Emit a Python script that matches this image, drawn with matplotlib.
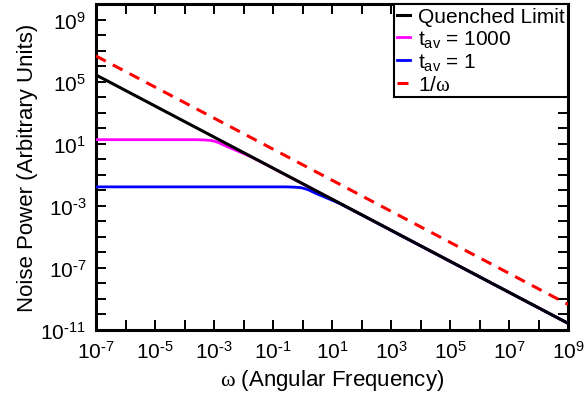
import numpy as np
import matplotlib
matplotlib.use("Agg")
import matplotlib.pyplot as plt
from matplotlib.ticker import LogLocator, FuncFormatter, NullLocator

plt.rcParams['font.family'] = ['Liberation Sans', 'DejaVu Sans']
plt.rcParams['mathtext.fontset'] = 'custom'
plt.rcParams['mathtext.rm'] = 'Liberation Serif'
plt.rcParams['mathtext.sf'] = 'Liberation Sans'
plt.rcParams['mathtext.it'] = 'Liberation Sans:italic'

# ---- data (log10 values) ----
quench_logw = [-7, 9]
quench_logS = [5.43, -10.57]

inv_logw = [-7, 9]
inv_logS = [6.65, -9.35]

t1000_logw = [-7, -3.6, -3.3, -3.1, -2.95, -2.83, -2.7, -2.55, -2.35, -2.15, -1.95, -1.7, -1.3, 9]
t1000_logS = [1.26, 1.26, 1.24, 1.21, 1.14, 1.06, 0.94, 0.81, 0.65, 0.49, 0.33, 0.11, -0.28, -10.57]

t1_logw = [-7, -0.56, -0.26, -0.06, 0.09, 0.21, 0.34, 0.49, 0.69, 0.89, 1.09, 1.34, 1.74, 9]
t1_logS = [-1.78, -1.78, -1.80, -1.83, -1.90, -1.98, -2.10, -2.23, -2.39, -2.55, -2.71, -2.93, -3.32, -10.57]

labels = ['Quenched Limit', 't$_{\\mathsf{av}}$ = 1000', 't$_{\\mathsf{av}}$ = 1', '1/$\\mathrm{\\omega}$']

fig = plt.figure(figsize=(5.85, 4.1), dpi=100)
ax = fig.add_axes([96/585, 1-331/410, (568-96)/585, (331-5)/410])

def p(lw_, ls_):
    return 10**np.array(lw_, float), 10**np.array(ls_, float)

x, y = p(quench_logw, quench_logS)
ax.plot(x, y, color='black', lw=2.2, label=labels[0], zorder=5)
x, y = p(t1000_logw, t1000_logS)
ax.plot(x, y, color='#ff00ff', lw=2.0, label=labels[1], zorder=3)
x, y = p(t1_logw, t1_logS)
ax.plot(x, y, color='#0000ff', lw=2.0, label=labels[2], zorder=3)
x, y = p(inv_logw, inv_logS)
ax.plot(x, y, color='#ff0000', lw=2.2, dashes=(3.6, 2.6), label=labels[3], zorder=4)

ax.set_xscale('log')
ax.set_yscale('log')
ax.set_xlim(1e-7, 1e9)
ax.set_ylim(1e-11, 1e10)

ax.xaxis.set_major_locator(LogLocator(base=10, numticks=30))
ax.yaxis.set_major_locator(LogLocator(base=10, numticks=30))
ax.xaxis.set_minor_locator(NullLocator())
ax.yaxis.set_minor_locator(NullLocator())

def lab(e):
    if e < 0:
        return '$\\mathsf{10^{\\text{-}%d}}$' % (-e)
    return '$\\mathsf{10^{%d}}$' % e

def fmt_x(v, pos):
    e = int(round(np.log10(v)))
    if (e + 7) % 2 != 0:
        return ''
    return lab(e)

def fmt_y(v, pos):
    e = int(round(np.log10(v)))
    if (e + 11) % 4 != 0:
        return ''
    return lab(e)

ax.xaxis.set_major_formatter(FuncFormatter(fmt_x))
ax.yaxis.set_major_formatter(FuncFormatter(fmt_y))

ax.tick_params(which='major', direction='in', length=7, width=1.4,
               top=True, right=True, labelsize=15, pad=7)
for s in ax.spines.values():
    s.set_linewidth(2.2)

ax.set_xlabel('$\\mathrm{\\omega}$ (Angular Frequency)', fontsize=16, labelpad=4)
ax.set_ylabel('Noise Power (Arbitrary Units)', fontsize=16, labelpad=2)

leg = ax.legend(loc='upper right', borderaxespad=0, fancybox=False, framealpha=1,
                edgecolor='black', fontsize=15, handlelength=0.6, handletextpad=0.4,
                labelspacing=0.1, borderpad=0.15)
leg.get_frame().set_linewidth(1.5)
leg.set_zorder(10)

fig.savefig('out.png', dpi=100)
